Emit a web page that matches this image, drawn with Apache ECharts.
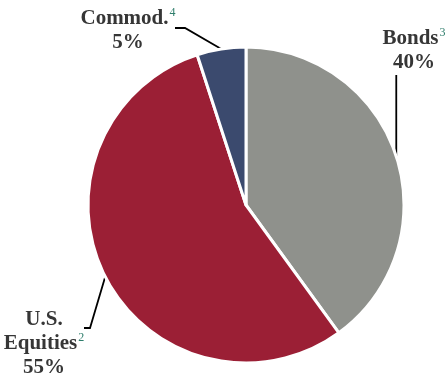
<!DOCTYPE html>
<html>
<head>
<meta charset="utf-8">
<script src="https://cdn.jsdelivr.net/npm/echarts@6/dist/echarts.min.js"></script>
<style>
html,body{margin:0;padding:0;background:#fff;}
#chart{width:448px;height:381px;}
</style>
</head>
<body>
<div id="chart"></div>
<script>
// Asset allocation shares (percent), drawn clockwise from 12 o'clock
var categories = ['Bonds', 'U.S. Equities', 'Commod.'];
var shares = [40, 55, 5];
var footnotes = ['3', '2', '4'];
var labelLines = [['Bonds'], ['U.S.', 'Equities'], ['Commod.']];
var colors = ['#8f918c', '#9b1f35', '#3b4a6e'];

var chart = echarts.init(document.getElementById('chart'), null, {renderer: 'canvas'});

var serif = "'Liberation Serif', 'Times New Roman', serif";

function labelText(i) {
  var names = labelLines[i];
  var rows = names.slice(0, -1).map(function (n) { return '{t|' + n + '}'; });
  rows.push('{t|' + names[names.length - 1] + '}{sup|' + footnotes[i] + '}');
  rows.push('{t|' + shares[i] + '%}');
  return rows.join('\n');
}

// label anchor and leader-line shape per slice
var labelPlacement = [
  { x: 414, y: 51, line: function (p) { return [p, [p[0], 75]]; } },
  { x: 44, y: 344, line: function (p) { return [p, [90, 328], [84, 328]]; } },
  { x: 128, y: 31, line: function (p) { return [p, [185, 28], [175, 28]]; } }
];

chart.setOption({
  backgroundColor: '#ffffff',
  animation: false,
  series: [{
    type: 'pie',
    center: [246, 205],
    radius: 158,
    startAngle: 90,
    clockwise: true,
    avoidLabelOverlap: false,
    itemStyle: { borderColor: '#ffffff', borderWidth: 3 },
    label: {
      show: true,
      position: 'outside',
      overflow: 'none',
      formatter: function (p) { return labelText(p.dataIndex); },
      rich: {
        t: { fontFamily: serif, fontWeight: 'bold', fontSize: 21, color: '#363636', lineHeight: 24 },
        sup: { fontFamily: serif, fontSize: 12, color: '#2e7d6b', verticalAlign: 'top', lineHeight: 20, padding: [0, 0, 4, 1] }
      }
    },
    labelLine: { show: true, lineStyle: { color: '#000000', width: 1.8 } },
    labelLayout: function (params) {
      var cfg = labelPlacement[params.dataIndex];
      var start = params.labelLinePoints ? params.labelLinePoints[0] : [0, 0];
      return {
        x: cfg.x,
        y: cfg.y,
        align: 'center',
        verticalAlign: 'middle',
        hideOverlap: false,
        labelLinePoints: cfg.line(start)
      };
    },
    data: categories.map(function (c, i) {
      return { name: c, value: shares[i], itemStyle: { color: colors[i] } };
    })
  }]
});
</script>
</body>
</html>
